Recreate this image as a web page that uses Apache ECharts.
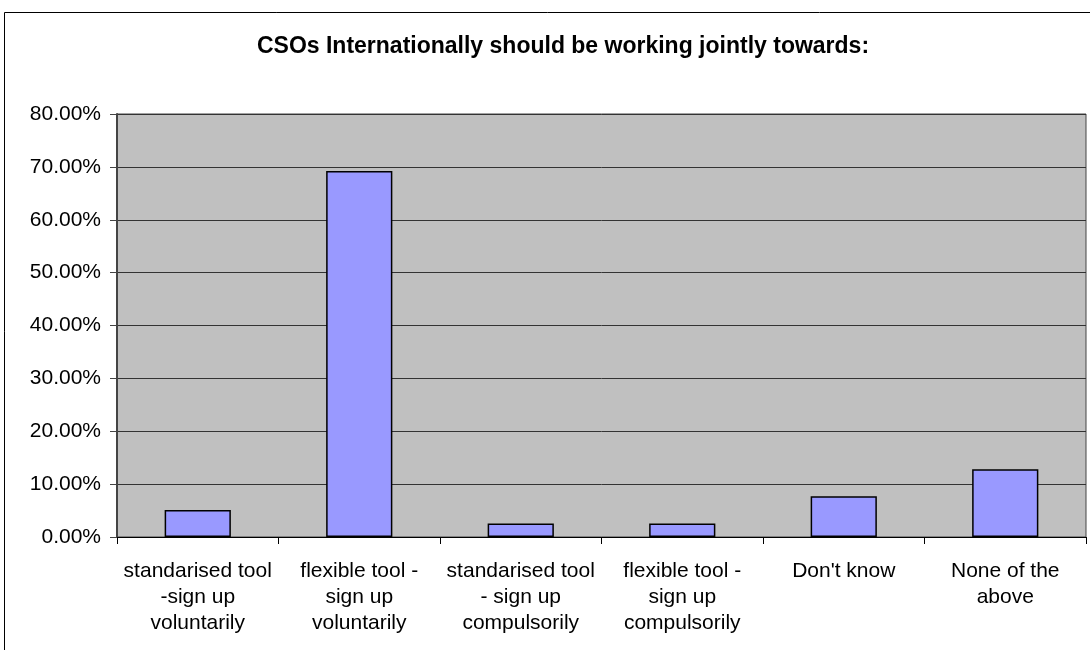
<!DOCTYPE html>
<html>
<head>
<meta charset="utf-8">
<script src="https://cdn.jsdelivr.net/npm/echarts@6/dist/echarts.min.js"></script>
<style>
html,body{margin:0;padding:0;background:#fff;}
#c{width:1090px;height:650px;}
</style>
</head>
<body>
<div id="c"></div>
<script>
var categories = [
  "standarised tool\n-sign up\nvoluntarily",
  "flexible tool -\nsign up\nvoluntarily",
  "standarised tool\n- sign up\ncompulsorily",
  "flexible tool -\nsign up\ncompulsorily",
  "Don't know",
  "None of the\nabove"
];
var values = [5.13, 69.23, 2.56, 2.56, 7.69, 12.82];
var titleText = "CSOs Internationally should be working jointly towards:";

var chart = echarts.init(document.getElementById('c'), null, {renderer: 'canvas'});
var font = "'Liberation Sans', Arial, sans-serif";
chart.setOption({
  animation: false,
  backgroundColor: '#ffffff',
  graphic: [{
    type: 'rect',
    shape: {x: 4.5, y: 12.5, width: 1100, height: 700},
    style: {fill: 'none', stroke: '#000', lineWidth: 1},
    silent: true
  }, {
    type: 'text',
    x: 563, y: 47,
    style: {
      text: titleText, textAlign: 'center', textVerticalAlign: 'middle',
      font: "bold 23px 'Liberation Sans', Arial, sans-serif", fill: '#000'
    },
    silent: true
  }],
  grid: {
    left: 117, right: 4, top: 114, bottom: 113,
    show: true, backgroundColor: '#C0C0C0', borderColor: '#444', borderWidth: 1
  },
  xAxis: {
    type: 'category',
    data: categories,
    axisLine: {lineStyle: {color: '#000', width: 1}},
    axisTick: {show: true, length: 7, alignWithLabel: false, lineStyle: {color: '#000'}},
    axisLabel: {interval: 0, fontFamily: font, fontSize: 21, color: '#000', lineHeight: 26, margin: 21}
  },
  yAxis: {
    type: 'value',
    min: 0, max: 80, interval: 10,
    axisLine: {show: true, lineStyle: {color: '#444', width: 2}},
    axisTick: {show: true, length: 7, lineStyle: {color: '#444'}},
    splitLine: {lineStyle: {color: '#333', width: 1}},
    axisLabel: {fontFamily: font, fontSize: 21, color: '#000', margin: 16,
      formatter: function(v){ return v.toFixed(2) + '%'; }}
  },
  series: [{
    type: 'bar',
    data: values,
    barWidth: '41%',
    itemStyle: {color: '#9999FF', borderColor: '#000', borderWidth: 1.5}
  }]
});
</script>
</body>
</html>
